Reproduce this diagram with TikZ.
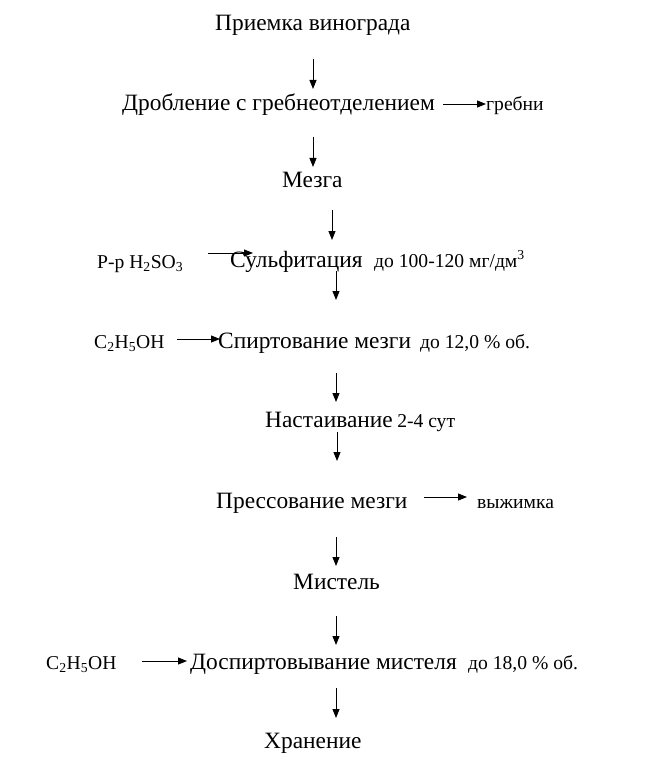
\documentclass[tikz,border=0pt]{standalone}
\usepackage{fontspec}
\setmainfont{Liberation Serif}
\usetikzlibrary{arrows.meta}
\begin{document}
\begin{tikzpicture}[x=1pt,y=-1pt,
  big/.style={inner sep=0pt,anchor=base west,font=\fontsize{23.4}{26}\selectfont},
  small/.style={inner sep=0pt,anchor=base west,font=\fontsize{19.6}{22}\selectfont},
  arr/.style={line width=0.9pt,-{Triangle[length=9pt,width=7pt]}}]
\useasboundingbox (0,0) rectangle (645,762);
\fill[white] (0,0) rectangle (645,762);
% main steps
\node[big] (n1) at (215,31) {Приемка винограда};
\node[big] (n2) at (122,111) {Дробление с гребнеотделением};
\node[small] (g) at (486,111) {гребни};
\node[big] (n3) at (282,187) {Мезга};
\node[small] (s1) at (97,268) {Р-р H\textsubscript{2}SO\textsubscript{3}};
\node[big] (n4) at (230,267) {Сульфитация};
\node[small] (d1) at (374,267) {до 100-120 мг/дм\textsuperscript{3}};
\node[small] (e1) at (94,348) {C\textsubscript{2}H\textsubscript{5}OH};
\node[big] (n5) at (218,348) {Спиртование мезги};
\node[small] (d2) at (420,348) {до 12,0 \% об.};
\node[big] (n6) at (265,427) {Настаивание};
\node[small] (d3) at ([xshift=4pt]n6.base east) {2-4 сут};
\node[big] (n7) at (216,508) {Прессование мезги};
\node[small] (v) at (477,508) {выжимка};
\node[big] (n8) at (293,589) {Мистель};
\node[small] (e2) at (46,669) {C\textsubscript{2}H\textsubscript{5}OH};
\node[big] (n9) at (190,669) {Доспиртовывание мистеля};
\node[small] (d4) at (468,669) {до 18,0 \% об.};
\node[big] (n10) at (264,748) {Хранение};
% connector coordinates
\coordinate (a1s) at (313,59);  \coordinate (a1e) at (313,89);
\coordinate (a2s) at (313,137); \coordinate (a2e) at (313,167);
\coordinate (a3s) at (332,210); \coordinate (a3e) at (332,240);
\coordinate (a4s) at (336,271); \coordinate (a4e) at (336,300);
\coordinate (a5s) at (336,373); \coordinate (a5e) at (336,402);
\coordinate (a6s) at (337,432); \coordinate (a6e) at (337,461);
\coordinate (a7s) at (336,537); \coordinate (a7e) at (336,566);
\coordinate (a8s) at (336,616); \coordinate (a8e) at (336,645);
\coordinate (a9s) at (336,688); \coordinate (a9e) at (336,718);
\coordinate (h1s) at (443,104); \coordinate (h1e) at (486,104);
\coordinate (h2s) at (208,253); \coordinate (h2e) at (253,253);
\coordinate (h3s) at (177,339); \coordinate (h3e) at (220,339);
\coordinate (h4s) at (424,497); \coordinate (h4e) at (467,497);
\coordinate (h5s) at (142,661); \coordinate (h5e) at (187,661);
\foreach \i in {1,...,9} {\draw[arr] (a\i s) -- (a\i e);}
\foreach \i in {1,...,5} {\draw[arr] (h\i s) -- (h\i e);}
\end{tikzpicture}
\end{document}
